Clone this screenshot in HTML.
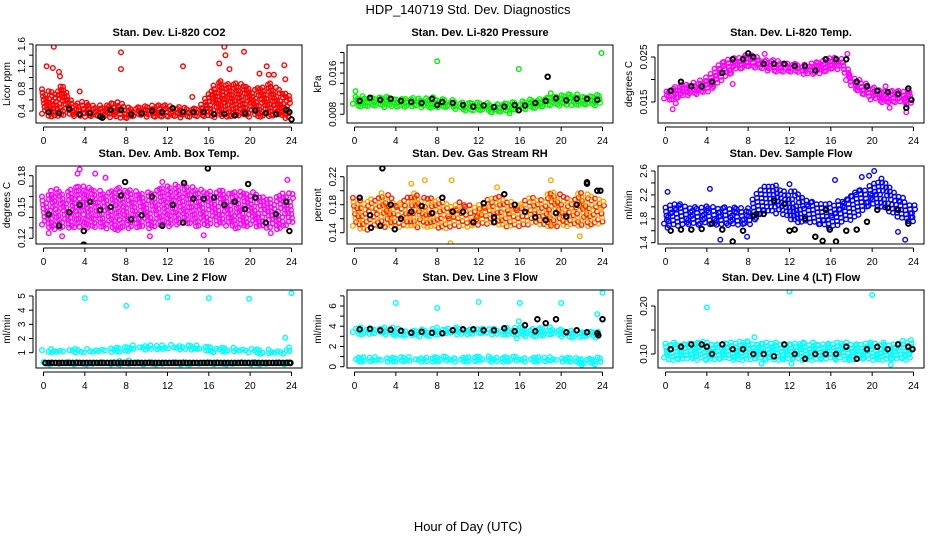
<!DOCTYPE html>
<html><head><meta charset="utf-8"><title>HDP_140719 Std. Dev. Diagnostics</title>
<style>
html,body{margin:0;padding:0;background:#fff;}
svg{display:block;font-family:"Liberation Sans",sans-serif;}
</style></head>
<body>
<svg id="chart" width="936" height="540" viewBox="0 0 936 540" xmlns="http://www.w3.org/2000/svg">
<text x="468" y="14" text-anchor="middle" font-size="13">HDP_140719  Std. Dev. Diagnostics</text>
<text x="468" y="531" text-anchor="middle" font-size="13">Hour of Day (UTC)</text>
</svg>
<script>
const hours = [0,1,2,3,4,5,6,7,8,9,10,11,12,13,14,15,16,17,18,19,20,21,22,23,24];
const xTickLabels = ["0","4","8","12","16","20","24"];

const co2Lo = [0.33,0.32,0.33,0.33,0.32,0.32,0.3,0.32,0.28,0.32,0.32,0.32,0.3,0.3,0.32,0.32,0.3,0.32,0.32,0.32,0.32,0.32,0.32,0.32,0.25];
const co2Hi = [0.8,0.75,0.9,0.55,0.6,0.5,0.5,0.6,0.48,0.5,0.5,0.52,0.5,0.48,0.45,0.5,0.75,0.95,0.9,0.9,0.8,0.85,0.9,0.75,0.7];
const co2Black = [0.38,0.36,0.44,0.34,0.36,0.3,0.42,0.42,0.34,0.36,0.4,0.38,0.45,0.38,0.38,0.38,0.34,0.35,0.32,0.36,0.41,0.36,0.34,0.42];
const co2Out = [[1,1.55],[0.3,1.2],[0.9,1.17],[1.5,1.1],[1.6,1.02],[7.5,1.45],[7.5,1.15],[13.5,1.2],[17.5,1.55],[17.6,1.4],[17,1.25],[19.4,1.46],[18,1.15],[21.6,1.2],[23.3,1.22],[23.4,0.97],[20.9,1.07],[22.3,1.05],[21.8,1.05],[14.4,0.65],[3.5,0.75]];
const co2BlackOut = [[24,0.25],[5.7,0.28],[23.8,0.38]];

const presLo = [0.0098,0.0097,0.0097,0.0096,0.0097,0.0095,0.0096,0.0095,0.0095,0.0094,0.0092,0.0089,0.0088,0.0087,0.0087,0.0088,0.009,0.0093,0.0096,0.0098,0.0099,0.01,0.0099,0.0099,0.01];
const presHi = [0.0117,0.0115,0.0116,0.0115,0.0114,0.0113,0.0113,0.0114,0.0113,0.011,0.0107,0.0104,0.0103,0.0102,0.0102,0.0103,0.0105,0.011,0.0114,0.0117,0.012,0.012,0.0119,0.0119,0.0118];
const presBlack = [0.0106,0.0112,0.0108,0.011,0.0106,0.0104,0.0102,0.011,0.0104,0.0102,0.0098,0.0095,0.0097,0.0094,0.0095,0.0098,0.0097,0.0102,0.0106,0.0111,0.0107,0.011,0.011,0.0108];
const presOut = [[8,0.0183],[15.9,0.0168],[23.9,0.0199],[0.1,0.0125],[15,0.0082],[13.3,0.0084],[19,0.0121]];
const presBlackOut = [[18.7,0.0153],[15.9,0.0088],[8,0.0098]];

const tempLo = [0.0155,0.016,0.0165,0.017,0.0175,0.019,0.021,0.0225,0.0232,0.0225,0.0222,0.022,0.0218,0.0215,0.0215,0.0215,0.0222,0.0228,0.0185,0.0168,0.0158,0.0152,0.015,0.0148,0.0145];
const tempHi = [0.0175,0.0185,0.019,0.0195,0.0205,0.0235,0.0248,0.025,0.0258,0.025,0.0245,0.0242,0.0238,0.0235,0.0236,0.0245,0.025,0.0252,0.0215,0.0195,0.0185,0.018,0.0178,0.0178,0.0172];
const tempBlack = [0.0175,0.0195,0.0185,0.0185,0.0195,0.0215,0.0245,0.0245,0.025,0.0235,0.0235,0.0235,0.023,0.023,0.022,0.0245,0.0245,0.0245,0.0195,0.0185,0.0175,0.0172,0.0168,0.018];
const tempOut = [[0.7,0.0134],[6.5,0.019],[17.6,0.0257],[9.6,0.0257],[21.3,0.0185],[23.3,0.0127],[21.7,0.0137],[1,0.0147]];
const tempBlackOut = [[23.3,0.0137],[23.8,0.0155],[8,0.0258]];

const ambLo = [0.132,0.13,0.13,0.132,0.13,0.132,0.13,0.13,0.13,0.132,0.13,0.133,0.132,0.135,0.135,0.132,0.133,0.135,0.132,0.13,0.133,0.132,0.13,0.13,0.135];
const ambHi = [0.162,0.168,0.165,0.17,0.17,0.168,0.165,0.17,0.168,0.165,0.165,0.168,0.17,0.172,0.17,0.168,0.165,0.168,0.165,0.165,0.165,0.162,0.16,0.165,0.165];
const ambBlack = [0.143,0.132,0.145,0.152,0.155,0.147,0.15,0.161,0.138,0.142,0.16,0.132,0.152,0.135,0.158,0.158,0.159,0.152,0.155,0.148,0.159,0.135,0.143,0.155];
const ambOut = [[0.5,0.125],[1.8,0.122],[3.5,0.186],[3.3,0.182],[5,0.182],[10.3,0.122],[15.5,0.123],[22,0.125],[7.2,0.128],[23.6,0.176],[6,0.178],[11.5,0.174]];
const ambBlackOut = [[3.9,0.114],[15.9,0.187],[7.9,0.174],[13.6,0.173],[19.8,0.172],[3.9,0.127],[23.8,0.127]];

const rhLo = [0.148,0.145,0.15,0.15,0.148,0.152,0.148,0.15,0.148,0.148,0.15,0.15,0.152,0.155,0.152,0.15,0.15,0.155,0.152,0.15,0.15,0.152,0.15,0.152,0.155];
const rhHi = [0.19,0.185,0.19,0.2,0.18,0.19,0.2,0.19,0.19,0.18,0.185,0.18,0.18,0.19,0.195,0.185,0.18,0.19,0.19,0.2,0.195,0.19,0.2,0.195,0.185];
const rhBlack = [0.19,0.165,0.15,0.18,0.16,0.17,0.178,0.168,0.19,0.17,0.17,0.155,0.182,0.162,0.195,0.18,0.17,0.162,0.158,0.168,0.163,0.18,0.21,0.2];
const rhOut = [[9.3,0.125],[9.4,0.215],[6.8,0.215],[5.5,0.21],[21.8,0.135],[13.8,0.205],[19,0.215]];
const rhBlackOut = [[2.7,0.232],[22.5,0.212],[23.8,0.2],[1.6,0.147],[3.9,0.145],[13.5,0.155]];

const flowLo = [1.7,1.7,1.72,1.72,1.72,1.72,1.7,1.72,1.7,1.85,1.95,1.9,1.8,1.75,1.75,1.72,1.65,1.75,1.8,1.95,2.05,2.0,1.9,1.8,1.75];
const flowHi = [2.05,2.05,2.05,2.02,2.05,2.02,2.02,2.0,1.95,2.3,2.4,2.35,2.3,2.2,2.1,2.1,2.05,2.15,2.25,2.3,2.4,2.5,2.3,2.15,2.05];
const flowBlack = [1.6,1.62,1.62,1.63,1.72,1.62,1.42,1.6,1.85,1.88,2.1,2.05,1.62,1.8,1.5,1.95,1.42,1.6,1.62,1.75,1.95,1.98,1.95,1.72];
const flowOut = [[0.2,2.25],[4.3,2.3],[5.3,1.45],[16.4,2.45],[19,2.5],[20.2,2.6],[19.7,2.52],[23.2,1.45],[22.5,1.58],[0.2,1.65],[12,2.38],[7.9,1.5]];
const flowBlackOut = [[15.9,1.62],[12,1.6],[15.2,1.43],[8.8,1.88]];

const l2Lo = [1.1,1.1,1.1,1.1,1.1,1.12,1.12,1.15,1.15,1.3,1.3,1.32,1.3,1.3,1.3,1.3,1.05,1.15,1.15,1.15,1.1,1.0,1.0,1.0,1.05];
const l2Hi = [1.3,1.3,1.3,1.3,1.3,1.3,1.35,1.5,1.45,1.55,1.55,1.52,1.55,1.55,1.55,1.5,1.45,1.45,1.38,1.35,1.3,1.25,1.22,1.22,1.45];
const l2Lo2 = [0.25,0.25,0.25,0.25,0.25,0.25,0.25,0.25,0.25,0.25,0.25,0.25,0.25,0.25,0.25,0.25,0.25,0.25,0.25,0.25,0.25,0.25,0.25,0.25,0.25];
const l2Hi2 = [0.35,0.35,0.35,0.35,0.38,0.35,0.35,0.38,0.5,0.4,0.38,0.38,0.38,0.38,0.38,0.38,0.38,0.38,0.38,0.38,0.38,0.38,0.38,0.38,0.38];
const l2Black = [0.28,0.28,0.28,0.28,0.28,0.28,0.28,0.28,0.28,0.28,0.28,0.28,0.28,0.28,0.28,0.28,0.28,0.28,0.28,0.28,0.28,0.28,0.28,0.28];
const l2Out = [[4,4.85],[8,4.3],[12,4.9],[16,4.85],[19.9,4.8],[24,5.2],[23.4,2.05]];
const l2BlackOut = [[23.9,0.28],[0.8,0.28]];

const l3Lo = [3.3,3.3,3.3,3.3,3.2,3.1,3.1,3.1,3.2,3.3,3.3,3.3,3.3,3.3,3.3,3.2,3.1,3.1,3.1,3.2,3.1,3.0,3.0,3.0,3.0];
const l3Hi = [3.9,3.9,3.9,3.9,3.9,3.7,3.7,3.7,3.9,3.9,3.9,3.8,3.9,3.8,3.8,3.9,4.0,3.8,3.8,3.9,3.7,3.6,3.5,3.5,3.5];
const l3Lo2 = [0.6,0.6,0.6,0.6,0.6,0.6,0.6,0.6,0.6,0.6,0.6,0.6,0.6,0.6,0.6,0.6,0.6,0.6,0.6,0.6,0.6,0.6,0.35,0.3,0.4];
const l3Hi2 = [1.0,1.0,1.0,1.0,1.0,1.0,1.0,1.0,1.05,1.0,1.0,1.0,1.05,1.0,1.0,1.05,1.0,1.0,1.0,1.0,1.0,1.0,1.0,1.0,0.9];
const l3Black = [3.7,3.75,3.6,3.65,3.55,3.35,3.45,3.35,3.3,3.6,3.7,3.7,3.6,3.6,3.8,3.5,4.1,3.5,4.3,4.7,3.4,3.6,3.4,3.3];
const l3Out = [[4,6.3],[8,5.8],[12,6.4],[16,6.3],[20,6.3],[24,7.3],[23.5,5.2],[15.7,2.8],[15.9,4.5],[22,0.2]];
const l3BlackOut = [[24,4.7],[17.7,4.7],[23.6,3.1]];

const l4Lo = [0.09,0.09,0.09,0.09,0.09,0.09,0.09,0.09,0.09,0.09,0.09,0.09,0.09,0.09,0.09,0.09,0.09,0.09,0.09,0.09,0.09,0.09,0.09,0.09,0.09];
const l4Hi = [0.125,0.125,0.125,0.128,0.125,0.125,0.125,0.125,0.13,0.125,0.125,0.125,0.125,0.125,0.125,0.125,0.125,0.125,0.125,0.125,0.125,0.125,0.125,0.128,0.13];
const l4Black = [0.11,0.115,0.12,0.12,0.1,0.12,0.11,0.11,0.1,0.1,0.095,0.12,0.1,0.09,0.1,0.1,0.1,0.115,0.09,0.11,0.115,0.11,0.12,0.115];
const l4Out = [[4,0.197],[12,0.23],[20,0.223],[9.3,0.08],[12.2,0.08],[21.8,0.078],[8.6,0.135]];
const l4BlackOut = [[23.9,0.11],[4,0.115]];

const panels = [
 {name:"co2",title:"Stan. Dev. Li-820 CO2",ylab:"Licor ppm",col:0,row:0,cal:[0.4,111,1.6,44],ticks:[0.4,0.6,0.8,1.0,1.2,1.4,1.6],labels:["0.4","0.8","1.2","1.6"],lo:co2Lo,hi:co2Hi,black:co2Black,out:co2Out,bout:co2BlackOut,color:["#ff0000"]},
 {name:"pressure",title:"Stan. Dev. Li-820 Pressure",ylab:"kPa",col:1,row:0,cal:[0.008,114.3,0.016,73.1],ticks:[0.008,0.010,0.012,0.014,0.016,0.018,0.020],labels:["0.008","0.016"],lo:presLo,hi:presHi,black:presBlack,out:presOut,bout:presBlackOut,color:["#00ee00","#00ff00"]},
 {name:"li820-temp",title:"Stan. Dev. Li-820 Temp.",ylab:"degrees C",col:2,row:0,cal:[0.015,102,0.025,57],ticks:[0.015,0.020,0.025],labels:["0.015","0.025"],lo:tempLo,hi:tempHi,black:tempBlack,out:tempOut,bout:tempBlackOut,color:["#ff00ff"]},
 {name:"amb-box-temp",title:"Stan. Dev. Amb. Box Temp.",ylab:"degrees C",col:0,row:1,cal:[0.12,238.3,0.18,175.7],ticks:[0.12,0.13,0.14,0.15,0.16,0.17,0.18],labels:["0.12","0.15","0.18"],lo:ambLo,hi:ambHi,black:ambBlack,out:ambOut,bout:ambBlackOut,color:["#ff00ff"],sparse:true},
 {name:"gas-stream-rh",title:"Stan. Dev. Gas Stream RH",ylab:"percent",col:1,row:1,cal:[0.14,232.7,0.22,176.7],ticks:[0.14,0.16,0.18,0.20,0.22],labels:["0.14","0.18","0.22"],lo:rhLo,hi:rhHi,black:rhBlack,out:rhOut,bout:rhBlackOut,color:["#ffa500","#ff2000"],sparse:true},
 {name:"sample-flow",title:"Stan. Dev. Sample Flow",ylab:"ml/min",col:2,row:1,cal:[1.4,242.7,2.6,171],ticks:[1.4,1.6,1.8,2.0,2.2,2.4,2.6],labels:["1.4","1.8","2.2","2.6"],lo:flowLo,hi:flowHi,black:flowBlack,out:flowOut,bout:flowBlackOut,color:["#0000ff"],sparse:true},
 {name:"line2-flow",title:"Stan. Dev. Line 2 Flow",ylab:"ml/min",col:0,row:2,cal:[1,352.7,5,296],ticks:[1,2,3,4,5],labels:["1","2","3","4","5"],lo:l2Lo,hi:l2Hi,lo2:l2Lo2,hi2:l2Hi2,black:l2Black,out:l2Out,bout:l2BlackOut,color:["#00ffff"],dense:true},
 {name:"line3-flow",title:"Stan. Dev. Line 3 Flow",ylab:"ml/min",col:1,row:2,cal:[0,366.7,6,306],ticks:[0,1,2,3,4,5,6,7],labels:["0","2","4","6"],lo:l3Lo,hi:l3Hi,lo2:l3Lo2,hi2:l3Hi2,black:l3Black,out:l3Out,bout:l3BlackOut,color:["#00ffff"]},
 {name:"line4-flow",title:"Stan. Dev. Line 4 (LT) Flow",ylab:"ml/min",col:2,row:2,cal:[0.10,354,0.20,306],ticks:[0.10,0.15,0.20],labels:["0.10","0.20"],lo:l4Lo,hi:l4Hi,black:l4Black,out:l4Out,bout:l4BlackOut,color:["#00ffff"]}
];

const NS="http://www.w3.org/2000/svg";
const svg=document.getElementById('chart');
const colLeft=[36,347,658], rowTop=[45,166,290], W=266, H=78;
function mk(tag,attrs,parent){const e=document.createElementNS(NS,tag);for(const k in attrs)e.setAttribute(k,attrs[k]);parent.appendChild(e);return e;}

panels.forEach(p=>{
  const L=colLeft[p.col], T=rowTop[p.row];
  const g=mk('g',{},svg);
  
  
  const xS=h=>L+7.5+h*248/24;
  const yS=v=>p.cal[1]+(v-p.cal[0])*(p.cal[3]-p.cal[1])/(p.cal[2]-p.cal[0]);
  const cid='clip-'+p.name;
  const cp=mk('clipPath',{id:cid},g); mk('rect',{x:L,y:T,width:W,height:H},cp);
  const pts=mk('g',{'clip-path':'url(#'+cid+')',fill:'none','stroke-width':1.4},g);
  
  
  let k=0;
  function dot(h,v,col,sw){const c=mk('circle',{cx:xS(h).toFixed(1),cy:yS(v).toFixed(1),r:2.3,stroke:col},pts);if(sw)c.setAttribute('stroke-width',sw);return c;}
  function band(lo,hi){
    const step=p.sparse?4:3.5;
    for(let px=0;px<=248;px+=step){
      const h=px*24/248, i=Math.min(23,Math.floor(h)), f=h-i;
      const a=lo[i]+(lo[i+1]-lo[i])*f, b=hi[i]+(hi[i+1]-hi[i])*f;
      const ya=yS(a), yb=yS(b);
      const jit=((Math.round(px)*7)%5)-2;
      for(let y=ya+jit*0.6;y>=yb;y-=step){
        const v=p.cal[0]+(y-p.cal[1])*(p.cal[2]-p.cal[0])/(p.cal[3]-p.cal[1]);
        const jx=(((k*13)%7)-3)*0.05;
        dot(h+jx,v,p.color[k%p.color.length]);k++;
      }
    }
  }
  band(p.lo,p.hi);
  if(p.lo2) band(p.lo2,p.hi2);
  p.out.forEach(o=>dot(o[0],o[1],p.color[0]));
  p.black.forEach((v,i)=>{
    const c=dot(i+0.5,v,'#000',1.9);
    
    
    if(p.dense){dot(i+0.17,v,'#000',1.9);dot(i+0.83,v,'#000',1.9);}
  });
  p.bout.forEach(o=>dot(o[0],o[1],'#000',1.9));
  const box=mk('rect',{x:L,y:T,width:W,height:H,fill:'none',stroke:'#000','stroke-width':1},g);
  
  
  const t=mk('text',{x:L+W/2,y:T-9,'text-anchor':'middle','font-size':11,'font-weight':'bold'},g);
  t.textContent=p.title;
  
  
  const ax=mk('g',{stroke:'#000','stroke-width':1},g);
  
  
  const ay0=T+H+4;
  mk('line',{x1:xS(0),y1:ay0,x2:xS(24),y2:ay0},ax);
  xTickLabels.forEach(lbl=>{
    const h=Number(lbl);
    mk('line',{x1:xS(h),y1:ay0,x2:xS(h),y2:ay0+4},ax);
    const tx=mk('text',{x:xS(h),y:ay0+17,'text-anchor':'middle','font-size':10,stroke:'none'},g);
    tx.textContent=lbl;
    
    
  });
  const yax=mk('g',{stroke:'#000','stroke-width':1},g);
  
  
  const axX=L-3;
  const tv=p.ticks.filter(v=>yS(v)>=T-2&&yS(v)<=T+H+2);
  mk('line',{x1:axX,y1:yS(tv[0]),x2:axX,y2:yS(tv[tv.length-1])},yax);
  tv.forEach(v=>mk('line',{x1:axX,y1:yS(v),x2:axX-4,y2:yS(v)},yax));
  p.labels.forEach(lbl=>{
    const y=yS(Number(lbl));
    const tx=mk('text',{x:0,y:0,'text-anchor':'middle','font-size':10,transform:`translate(${L-11},${y.toFixed(1)}) rotate(-90)`},g);
    tx.textContent=lbl;
    
    
  });
  const yl=mk('text',{x:0,y:0,'text-anchor':'middle','font-size':10,transform:`translate(${L-26},${T+H/2}) rotate(-90)`},g);
  yl.textContent=p.ylab;
  
  
});
</script>
</body></html>
